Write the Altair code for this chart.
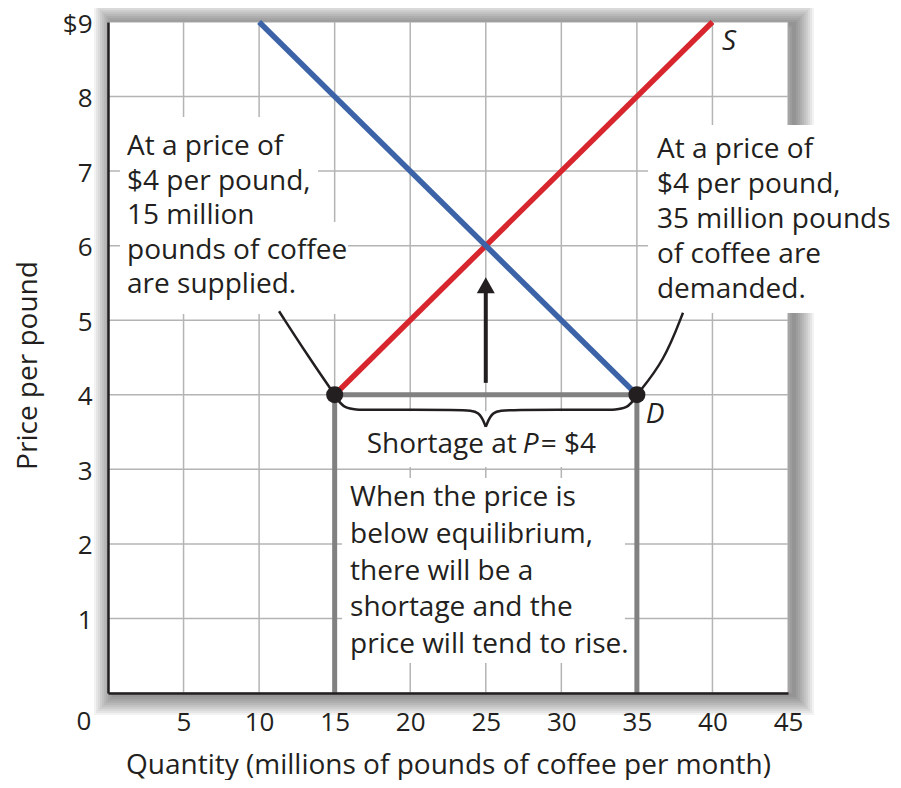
import altair as alt
import pandas as pd

# ---------------- data ----------------
x_tick_values = [5, 10, 15, 20, 25, 30, 35, 40, 45]
y_tick_values = [1, 2, 3, 4, 5, 6, 7, 8, 9]
x_grid = [5, 10, 15, 20, 25, 30, 35, 40]
y_grid = [1, 2, 3, 4, 5, 6, 7, 8]

supply_quantity = [15, 40]
supply_price = [4, 9]
demand_quantity = [10, 35]
demand_price = [9, 4]

shortage_price = 4
quantity_supplied = 15
quantity_demanded = 35
equilibrium_quantity = 25
arrow_base = 4.16
arrow_shaft_top = 5.42
arrow_head = 5.47

brace_left_q = [15.0, 15.6, 17.0, 23.6, 24.6, 25.0]
brace_left_p = [4.0, 3.80, 3.80, 3.80, 3.78, 3.57]
brace_right_q = [25.0, 25.4, 26.4, 33.0, 34.4, 35.0]
brace_right_p = [3.57, 3.78, 3.80, 3.80, 3.80, 4.0]

conn_left_q = [11.32, 13.3, 15.0]
conn_left_p = [5.12, 4.5, 4.0]
conn_right_q = [35.0, 36.8, 38.05]
conn_right_p = [4.0, 4.45, 5.10]

left_note = ["At a price of", "$4 per pound,", "15 million", "pounds of coffee", "are supplied."]
right_note = ["At a price of", "$4 per pound,", "35 million pounds", "of coffee are", "demanded."]
bottom_note = ["When the price is", "below equilibrium,", "there will be a",
               "shortage and the", "price will tend to rise."]
note_q = [1.26, 36.33, 16.02]
note_p = [7.216, 7.175, 2.508]
note_line_height = [34.5, 35.0, 36.75]

# white backing boxes behind the notes (quantity from/to, price from/to)
box_q1 = [0.79, 0.79, 35.74, 15.49, 15.2]
box_q2 = [13.9, 15.88, 52.0, 34.21, 34.8]
box_p1 = [6.317, 5.083, 5.097, 0.402, 3.031]
box_p2 = [7.726, 6.317, 7.618, 2.884, 3.78]

s_label_pos = (41.1, 8.73)
d_label_pos = (36.2, 3.73)
shortage_label_p = 3.33
shortage_text = ["Shortage at", "P", "= $4"]
shortage_style = ["normal", "italic", "normal"]
shortage_align = ["right", "left", "left"]
shortage_dx = [31, 37, 55]

# ---------------- style ----------------
FONT = "Open Sans"
INK = "#231f20"
RED = "#d7262e"
BLUE = "#3c63a7"
GRAY = "#818181"
GRID = "#b4b4b4"

xs = alt.Scale(domain=[0, 45], nice=False, zero=False)
ys = alt.Scale(domain=[0, 9], nice=False, zero=False)

x_axis = alt.Axis(
    values=x_tick_values, grid=False, ticks=False, tickSize=0, labelPadding=16,
    labelFont=FONT, labelFontSize=26, labelColor=INK, labelFlush=False, labelOverlap=False,
    domainColor=INK, domainWidth=2.5,
    title="Quantity (millions of pounds of coffee per month)", titleFont=FONT,
    titleFontSize=28, titleFontWeight="normal", titleColor=INK,
    titleBaseline="alphabetic", titleY=80, zindex=1,
)
y_axis = alt.Axis(
    values=y_tick_values, grid=False, ticks=False, tickSize=0, labelPadding=16,
    labelOffset=2,
    labelExpr="datum.value == 9 ? '$9' : datum.label",
    labelFont=FONT, labelFontSize=26, labelColor=INK, labelFlush=False, labelOverlap=False,
    domainColor=INK, domainWidth=2.5,
    title="Price per pound", titleFont=FONT, titleFontSize=28, titleFontWeight="normal",
    titleColor=INK, titleBaseline="alphabetic", titleAngle=270, titleAlign="center",
    titleX=-72, titleY=343, zindex=1,
)


def X(f="q"):
    return alt.X(f, type="quantitative", scale=xs, axis=x_axis)


def Y(f="p"):
    return alt.Y(f, type="quantitative", scale=ys, axis=y_axis)


# ---------------- layers ----------------
frame_df = pd.DataFrame({"q": [0], "q2": [45], "p": [0], "p2": [9]})
shadow_widths = [4, 8, 12, 16, 20, 24, 28, 32, 36, 40]
n_sh = len(shadow_widths)
shadow_df = pd.DataFrame({"q": [0] * n_sh, "q2": [45] * n_sh, "p": [0] * n_sh,
                          "p2": [9] * n_sh, "w": shadow_widths})

shadow = alt.Chart(shadow_df).mark_rect(
    fill="white", fillOpacity=0, stroke="black", strokeOpacity=0.05,
    xOffset=6, x2Offset=6, yOffset=2, y2Offset=2,
).encode(x=X(), x2="q2", y=Y(), y2="p2",
         strokeWidth=alt.StrokeWidth("w:Q", scale=None, legend=None))

plot_bg = alt.Chart(frame_df).mark_rect(fill="white", stroke="#a6a6a6", strokeWidth=1).encode(
    x=X(), x2="q2", y=Y(), y2="p2")

vgrid = alt.Chart(pd.DataFrame({"q": x_grid})).mark_rule(color=GRID, strokeWidth=1.5).encode(x=X())
hgrid = alt.Chart(pd.DataFrame({"p": y_grid})).mark_rule(color=GRID, strokeWidth=1.5).encode(y=Y())

boxes = alt.Chart(pd.DataFrame({"q": box_q1, "q2": box_q2, "p": box_p1, "p2": box_p2})).mark_rect(
    fill="white", clip=False).encode(x=X(), x2="q2", y=Y(), y2="p2")


def note_layer(lines, q, p, lh):
    df = pd.DataFrame({"q": [q], "p": [p], "text": ["\n".join(lines)]})
    return alt.Chart(df).mark_text(
        color=INK, align="left", baseline="alphabetic", font=FONT, fontSize=28,
        lineBreak="\n", lineHeight=lh).encode(x=X(), y=Y(), text="text:N")


texts = [note_layer(l, q, p, lh) for l, q, p, lh in
         zip([left_note, right_note, bottom_note], note_q, note_p, note_line_height)]

sh_texts = []
for t, st, al, dx in zip(shortage_text, shortage_style, shortage_align, shortage_dx):
    df = pd.DataFrame({"q": [equilibrium_quantity], "p": [shortage_label_p], "text": [t]})
    sh_texts.append(alt.Chart(df).mark_text(
        color=INK, align=al, baseline="middle", font=FONT, fontSize=28, fontStyle=st, dx=dx
    ).encode(x=X(), y=Y(), text="text:N"))

supply = alt.Chart(pd.DataFrame({"q": supply_quantity, "p": supply_price})).mark_line(
    color=RED, strokeWidth=5.5, strokeCap="butt").encode(x=X(), y=Y())
demand = alt.Chart(pd.DataFrame({"q": demand_quantity, "p": demand_price})).mark_line(
    color=BLUE, strokeWidth=5.5, strokeCap="butt").encode(x=X(), y=Y())

gap_line = alt.Chart(pd.DataFrame({"q": [quantity_supplied, quantity_demanded],
                                   "p": [shortage_price, shortage_price]})).mark_line(
    color=GRAY, strokeWidth=5).encode(x=X(), y=Y())
drops = alt.Chart(pd.DataFrame({"q": [quantity_supplied, quantity_demanded],
                                "p": [0, 0], "p2": [shortage_price, shortage_price]})).mark_rule(
    color=GRAY, strokeWidth=5).encode(x=X(), y=Y(), y2="p2")

curve_rows = []
for name, qq, pp in [("bl", brace_left_q, brace_left_p), ("br", brace_right_q, brace_right_p),
                     ("cl", conn_left_q, conn_left_p), ("cr", conn_right_q, conn_right_p)]:
    for i, (a, b) in enumerate(zip(qq, pp)):
        curve_rows.append({"part": name, "i": i, "q": a, "p": b})
curves = alt.Chart(pd.DataFrame(curve_rows)).mark_line(
    interpolate="basis", color=INK, strokeWidth=2.5).encode(
    x=X(), y=Y(), detail="part:N", order="i:Q")

shaft = alt.Chart(pd.DataFrame({"q": [equilibrium_quantity], "p": [arrow_base],
                                "p2": [arrow_shaft_top]})).mark_rule(
    color=INK, strokeWidth=4).encode(x=X(), y=Y(), y2="p2")
head = alt.Chart(pd.DataFrame({"q": [equilibrium_quantity], "p": [arrow_head]})).mark_point(
    shape="M0,-0.8L0.9,0.8L-0.9,0.8Z", filled=True, size=400, color=INK, opacity=1).encode(
    x=X(), y=Y())

dots = alt.Chart(pd.DataFrame({"q": [quantity_supplied, quantity_demanded],
                               "p": [shortage_price, shortage_price]})).mark_circle(
    size=290, color=INK, opacity=1).encode(x=X(), y=Y())

sd_df = pd.DataFrame({"q": [s_label_pos[0], d_label_pos[0]],
                      "p": [s_label_pos[1], d_label_pos[1]], "text": ["S", "D"]})
sd = alt.Chart(sd_df).mark_text(font=FONT, fontSize=28, fontStyle="italic", color=INK,
                                align="center", baseline="middle").encode(
    x=X(), y=Y(), text="text:N")

zero_label = alt.Chart(pd.DataFrame({"q": [0], "p": [0], "text": ["0"]})).mark_text(
    font=FONT, fontSize=26, color=INK, align="center", baseline="top", dx=-24, dy=16).encode(
    x=X(), y=Y(), text="text:N")

chart = alt.layer(
    shadow, plot_bg, vgrid, hgrid, boxes,
    drops, gap_line, supply, demand, curves, shaft, head, dots,
    *texts, *sh_texts, sd, zero_label,
).properties(
    width=680, height=671,
    autosize=alt.AutoSizeParams(type="none"),
    padding={"left": 100, "top": 14, "right": 105, "bottom": 87},
).configure_view(stroke=None)

chart.save("out.html", embed_options={"renderer": "svg", "actions": False})
